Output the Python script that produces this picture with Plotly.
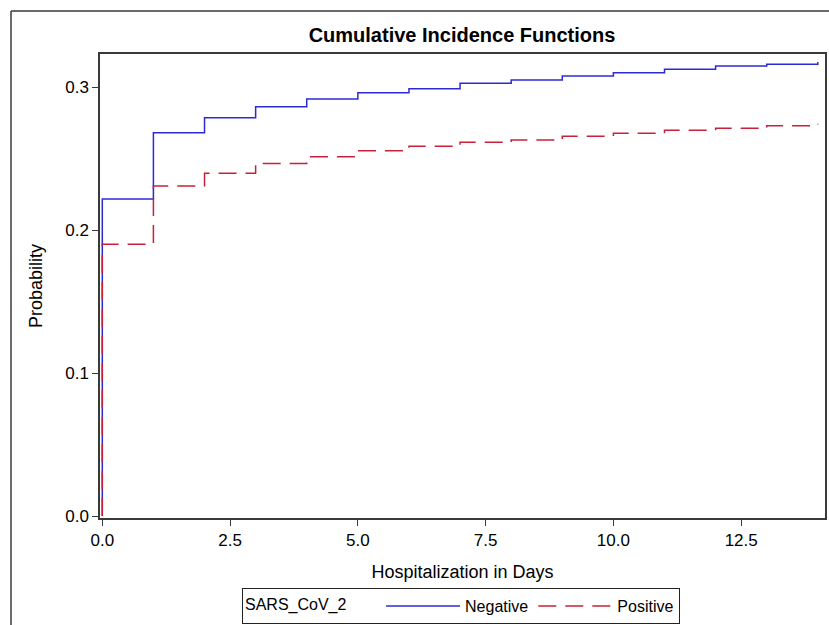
import plotly.graph_objects as go

days = [0, 0, 1, 2, 3, 4, 5, 6, 7, 8, 9, 10, 11, 12, 13, 14]
negative = [0.0, 0.2217, 0.268, 0.2785, 0.2862, 0.2916, 0.296, 0.2988, 0.3026,
            0.305, 0.3077, 0.310, 0.3124, 0.3147, 0.316, 0.3175]
positive = [0.0, 0.190, 0.2308, 0.2397, 0.2466, 0.2513, 0.2555, 0.2585, 0.2613,
            0.2629, 0.2655, 0.2676, 0.2697, 0.2711, 0.2729, 0.2743]
x_ticks = [0.0, 2.5, 5.0, 7.5, 10.0, 12.5]
y_ticks = [0.0, 0.1, 0.2, 0.3]

FONT = "Liberation Sans, Arial, sans-serif"
AX = "#3a3a3a"

fig = go.Figure()
fig.add_trace(go.Scatter(x=days, y=negative, mode="lines", name="Negative",
                         line=dict(shape="hv", color="#2b2bd6", width=1.5)))
fig.add_trace(go.Scatter(x=days, y=positive, mode="lines", name="Positive",
                         line=dict(shape="hv", color="#c8203a", width=1.5, dash="18px,9px")))

W, H = 829, 625
L, R, T, B = 100, 4, 54, 107
pw, ph = W - L - R, H - T - B
def px(x):
    return (x - L) / pw
def py(y):
    return (H - B - y) / ph

fig.update_layout(
    width=W, height=H,
    margin=dict(l=L, r=R, t=T, b=B, autoexpand=False),
    paper_bgcolor="white", plot_bgcolor="white",
    font=dict(family=FONT, color="black", size=16),
    title=dict(text="<b>Cumulative Incidence Functions</b>", x=(462 / W), xanchor="center",
               y=1 - 35 / H, yanchor="middle", font=dict(size=20, family=FONT)),
    xaxis=dict(range=[-0.045, 14.14], tickvals=x_ticks, tickformat=".1f",
               showgrid=False, zeroline=False, showline=True, mirror=True,
               linecolor=AX, linewidth=1.5, ticks="outside", ticklen=6, tickcolor=AX,
               tickfont=dict(size=17),
               title=dict(text="Hospitalization in Days", font=dict(size=18), standoff=16)),
    yaxis=dict(range=[-0.0014, 0.3231], tickvals=y_ticks, tickformat=".1f",
               showgrid=False, zeroline=False, showline=True, mirror=True,
               linecolor=AX, linewidth=1.5, ticks="outside", ticklen=6, tickcolor=AX,
               tickfont=dict(size=17),
               title=dict(text="Probability", font=dict(size=18), standoff=18)),
    legend=dict(orientation="h", x=px(242), y=py(606), xref="paper", yref="paper",
                xanchor="left", yanchor="middle",
                title=dict(text="SARS_CoV_2" + "\u00a0" * 6, font=dict(size=16), side="left"),
                font=dict(size=16), bordercolor="#222", borderwidth=1,
                bgcolor="white", itemwidth=74, tracegroupgap=0),
    showlegend=True,
)

# outer frame (left and top edges)
fig.add_shape(type="line", xref="paper", yref="paper", x0=px(11), x1=px(11),
              y0=py(11), y1=py(700), line=dict(color=AX, width=1.5))
fig.add_shape(type="line", xref="paper", yref="paper", x0=px(11), x1=px(900),
              y0=py(11), y1=py(11), line=dict(color=AX, width=1.5))

fig.write_html("out.html")
